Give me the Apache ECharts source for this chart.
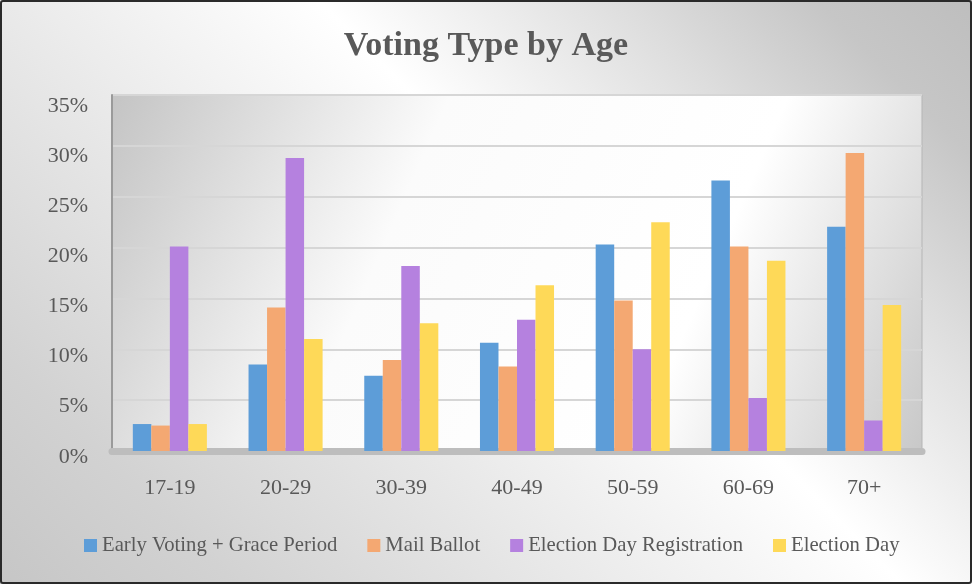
<!DOCTYPE html>
<html>
<head>
<meta charset="utf-8">
<script src="https://cdn.jsdelivr.net/npm/echarts@6/dist/echarts.min.js"></script>
<style>
  html, body { margin: 0; padding: 0; background: #fff; }
  #wrap { position: relative; width: 972px; height: 584px; }
  #chart { position: absolute; left: 0; top: 0; width: 972px; height: 584px;
    background: linear-gradient(45deg, #c6c6c6 0%, #d2d2d2 15%, #ffffff 58%, #e0e0e0 76%, #c6c6c6 90%, #bebebe 100%); }
  #border { position: absolute; left: 0; top: 0; width: 972px; height: 584px; box-sizing: border-box;
    border: 2px solid #2a2a2a; border-radius: 3px; pointer-events: none; }
</style>
</head>
<body>
<div id="wrap"><div id="chart"></div><div id="border"></div></div>
<script>
const categories = ['17-19', '20-29', '30-39', '40-49', '50-59', '60-69', '70+'];
const earlyVoting = [2.65, 8.5, 7.4, 10.65, 20.3, 26.6, 22.05];
const mailBallot = [2.5, 14.1, 8.95, 8.3, 14.8, 20.1, 29.3];
const electionDayReg = [20.1, 28.8, 18.2, 12.9, 10.0, 5.2, 3.0];
const electionDay = [2.65, 11.0, 12.55, 16.3, 22.5, 18.7, 14.35];
const seriesNames = ['Early Voting + Grace Period', 'Mail Ballot', 'Election Day Registration', 'Election Day'];
const seriesColors = ['#5d9dd8', '#f4a872', '#b581df', '#fed958'];
const yTicks = [0, 5, 10, 15, 20, 25, 30, 35];

const font = '"Liberation Serif", "Times New Roman", serif';
const chart = echarts.init(document.getElementById('chart'), null, { renderer: 'canvas' });
const seriesData = [earlyVoting, mailBallot, electionDayReg, electionDay];

chart.setOption({
  backgroundColor: 'transparent',
  textStyle: { fontFamily: font },
  title: {
    text: 'Voting Type by Age',
    left: 'center', top: 24,
    textStyle: { fontFamily: font, fontSize: 34, fontWeight: 'bold', color: '#595959' }
  },
  legend: {
    data: seriesNames,
    left: 84, top: 535, padding: 0,
    itemWidth: 13, itemHeight: 13, itemGap: 30,
    icon: 'rect',
    textStyle: { fontFamily: font, fontSize: 20.7, color: '#595959' }
  },
  grid: [
    { left: 112, right: 50, top: 95, height: 356, show: true,
      borderColor: '#b5b5b5', borderWidth: 1,
      backgroundColor: new echarts.graphic.LinearGradient(0, 0, 1, 1, [
        { offset: 0, color: '#c4c4c4' },
        { offset: 0.35, color: '#fbfbfb' },
        { offset: 0.7, color: '#ffffff' },
        { offset: 1, color: '#c8c8c8' }
      ]) },
    { left: 112, right: 50, top: 105.8, height: 351 }
  ],
  xAxis: [
    { type: 'category', gridIndex: 0, data: categories,
      axisTick: { show: false },
      axisLine: { show: true, onZero: false, lineStyle: { color: '#bdbdbd', width: 7 } },
      axisLabel: { fontFamily: font, fontSize: 22, color: '#595959', margin: 26 } },
    { type: 'category', gridIndex: 1, data: categories, show: false }
  ],
  yAxis: [
    { type: 'value', gridIndex: 0, min: 0, max: 35, interval: 5,
      axisLine: { show: true, lineStyle: { color: '#9a9a9a', width: 2 } },
      axisTick: { show: false },
      axisLabel: { show: false },
      splitLine: { show: true, lineStyle: { color: '#d6d6d6', width: 2 } } },
    { type: 'value', gridIndex: 1, min: 0, max: 35, interval: 5,
      axisLine: { show: false }, axisTick: { show: false }, splitLine: { show: false },
      axisLabel: { fontFamily: font, fontSize: 22, color: '#595959', margin: 24,
        formatter: v => yTicks.includes(v) ? v + '%' : '' } }
  ],
  series: seriesNames.map((name, i) => ({
    name, type: 'bar', xAxisIndex: 0, yAxisIndex: 0,
    data: seriesData[i],
    barGap: '0%', barCategoryGap: '36%',
    itemStyle: { color: seriesColors[i] },
    emphasis: { disabled: true }
  })),
  animation: false
});
</script>
</body>
</html>
